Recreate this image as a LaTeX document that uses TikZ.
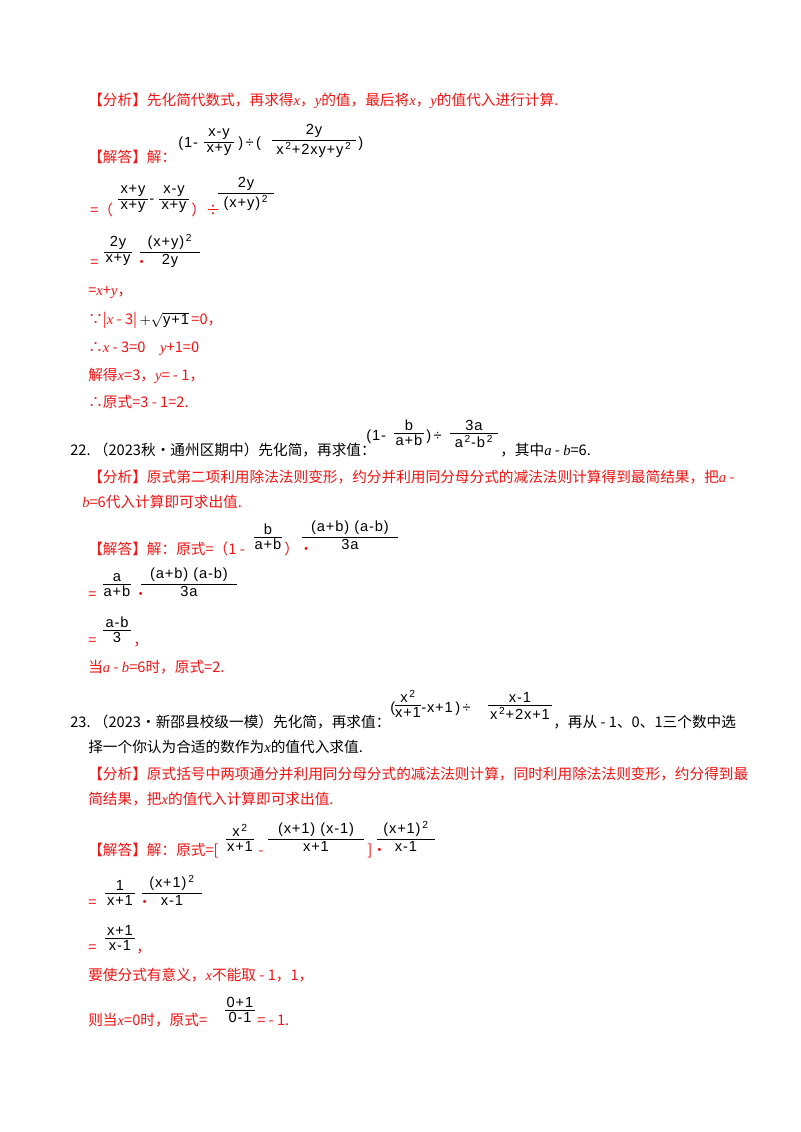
\documentclass[tikz,border=0pt]{standalone}
\usepackage{fontspec}
\setmainfont{Noto Sans CJK SC}
\newfontfamily\ser{Liberation Serif}
\newfontfamily\ars[LetterSpace=6]{Liberation Sans}
\newcommand\vr[1]{{\ser\itshape #1}}
\newcommand\sq{\textsuperscript{\,2}}
\definecolor{ans}{RGB}{240,20,20}
\tikzset{t/.style={anchor=base west,inner sep=0pt,font=\fontsize{11}{13}\selectfont},
 fn/.style={inner sep=1.5pt,font=\ars\fontsize{11}{13}\selectfont},
 ft/.style={anchor=base west,inner sep=0pt,font=\ars\fontsize{11}{13}\selectfont}}
% \fr{cx}{liney}{width}{num}{den}{color}
\newcommand\fr[6]{\draw[#6,line width=0.6pt] (#1-#3/2,#2)--++(#3,0);
 \node[fn,above,text=#6] at (#1,#2) {#4}; \node[fn,below,text=#6] at (#1,#2) {#5};}
\begin{document}
\begin{tikzpicture}[x=0.75pt,y=-0.75pt]
\useasboundingbox[fill=white] (0,0) rectangle (800,1132);
\node[t,text=ans] (a1) at (88,105) {【分析】先化简代数式，再求得\vr{x}，\vr{y}的值，最后将\vr{x}，\vr{y}的值代入进行计算.};
\node[ft] (f1) at (178,147) {(1-};
\fr{219}{142}{30}{x-y}{x+y}{black}
\node[ft] (f2) at (238,147) {)\,÷\,(};
\fr{314}{140}{84}{2y}{x\sq+2xy+y\sq}{black}
\node[ft] (f3) at (358,147) {)};
\node[t,text=ans] (a2) at (88,162) {【解答】解：};
% step 1
\node[t,text=ans] (s1) at (90,215) {=（};
\fr{133}{199}{30}{x+y}{x+y}{black}
\node[ft] (s1b) at (149,203) {-};
\fr{174}{199}{30}{x-y}{x+y}{black}
\node[t,text=ans] (s1c) at (191,215) {）÷};
\fr{246}{193}{56}{2y}{(x+y)\sq}{black}
% step 2
\node[t,text=ans] (s2) at (90,267) {=};
\fr{118}{252}{28}{2y}{x+y}{black}
\node[t,text=ans] (s2b) at (134,267) {•};
\fr{170}{252}{60}{(x+y)\sq}{2y}{black}
\node[t,text=ans] (s3) at (88,295) {=\vr{x}+\vr{y}，};
\node[t,text=ans] (s4) at (88,324) {∵|\vr{x} - 3|{\color{black}\,$+\sqrt{\mbox{\ars y+1}}$}\,=0，};
\node[t,text=ans] (s5) at (88,352) {∴\vr{x} - 3=0\quad \vr{y}+1=0};
\node[t,text=ans] (s6) at (88,380) {解得\vr{x}=3，\vr{y}= - 1，};
\node[t,text=ans] (s7) at (88,407) {∴原式=3 - 1=2.};
% Q22
\node[t] (q22) at (70,455) {22.\ （2023秋•通州区期中）先化简，再求值：};
\node[ft] (g1) at (366,440) {(1-};
\fr{409}{433}{30}{b}{a+b}{black}
\node[ft] (g2) at (426,440) {)\,÷};
\fr{474}{433}{48}{3a}{a\sq-b\sq}{black}
\node[t] (q22b) at (500,455) {，其中\vr{a} - \vr{b}=6.};
\node[t,text=ans] (b1) at (88,482) {【分析】原式第二项利用除法法则变形，约分并利用同分母分式的减法法则计算得到最简结果，把\vr{a} -};
\node[t,text=ans] (b2) at (82,507) {\vr{b}=6代入计算即可求出值.};
\node[t,text=ans] (b3) at (88,554) {【解答】解：原式=（1 -};
\fr{268}{537}{28}{b}{a+b}{black}
\node[t,text=ans] (b3b) at (284,554) {）•};
\fr{350}{537}{96}{(a+b) (a-b)}{3a}{black}
\node[t,text=ans] (b4) at (88,599) {=};
\fr{117}{584}{28}{a}{a+b}{black}
\node[t,text=ans] (b4b) at (133,599) {•};
\fr{189}{584}{96}{(a+b) (a-b)}{3a}{black}
\node[t,text=ans] (b5) at (88,645) {=};
\fr{117}{630}{28}{a-b}{3}{black}
\node[t,text=ans] (b5b) at (133,645) {，};
\node[t,text=ans] (b6) at (88,672) {当\vr{a} - \vr{b}=6时，原式=2.};
% Q23
\node[t] (q23) at (70,727) {23.\ （2023•新邵县校级一模）先化简，再求值：};
\node[ft] (h1) at (390,712) {(};
\fr{408}{705}{26}{x\sq}{x+1}{black}
\node[ft] (h2) at (421,712) {-x+1\,)\,÷};
\fr{520}{705}{64}{x-1}{x\sq+2x+1}{black}
\node[t] (q23b) at (553,727) {，再从 - 1、0、1三个数中选};
\node[t] (q23c) at (88,752) {择一个你认为合适的数作为\vr{x}的值代入求值.};
\node[t,text=ans] (c1) at (88,779) {【分析】原式括号中两项通分并利用同分母分式的减法法则计算，同时利用除法法则变形，约分得到最};
\node[t,text=ans] (c2) at (88,804) {简结果，把\vr{x}的值代入计算即可求出值.};
\node[t,text=ans] (c3) at (88,855) {【解答】解：原式=[};
\fr{240}{839}{28}{x\sq}{x+1}{black}
\node[t,text=ans] (c3b) at (258,855) {-};
\fr{316}{839}{96}{(x+1) (x-1)}{x+1}{black}
\node[t,text=ans] (c3c) at (367,855) {]•};
\fr{406}{839}{58}{(x+1)\sq}{x-1}{black}
\node[t,text=ans] (c4) at (88,907) {=};
\fr{120}{893}{30}{1}{x+1}{black}
\node[t,text=ans] (c4b) at (137,907) {•};
\fr{172}{893}{60}{(x+1)\sq}{x-1}{black}
\node[t,text=ans] (c5) at (88,952) {=};
\fr{120}{938}{30}{x+1}{x-1}{black}
\node[t,text=ans] (c5b) at (136,952) {，};
\node[t,text=ans] (c6) at (88,980) {要使分式有意义，\vr{x}不能取 - 1，1，};
\node[t,text=ans] (c7) at (88,1025) {则当\vr{x}=0时，原式=};
\fr{240}{1010}{30}{0+1}{0-1}{black}
\node[t,text=ans] (c7b) at (257,1025) {= - 1.};
\end{tikzpicture}
\end{document}
